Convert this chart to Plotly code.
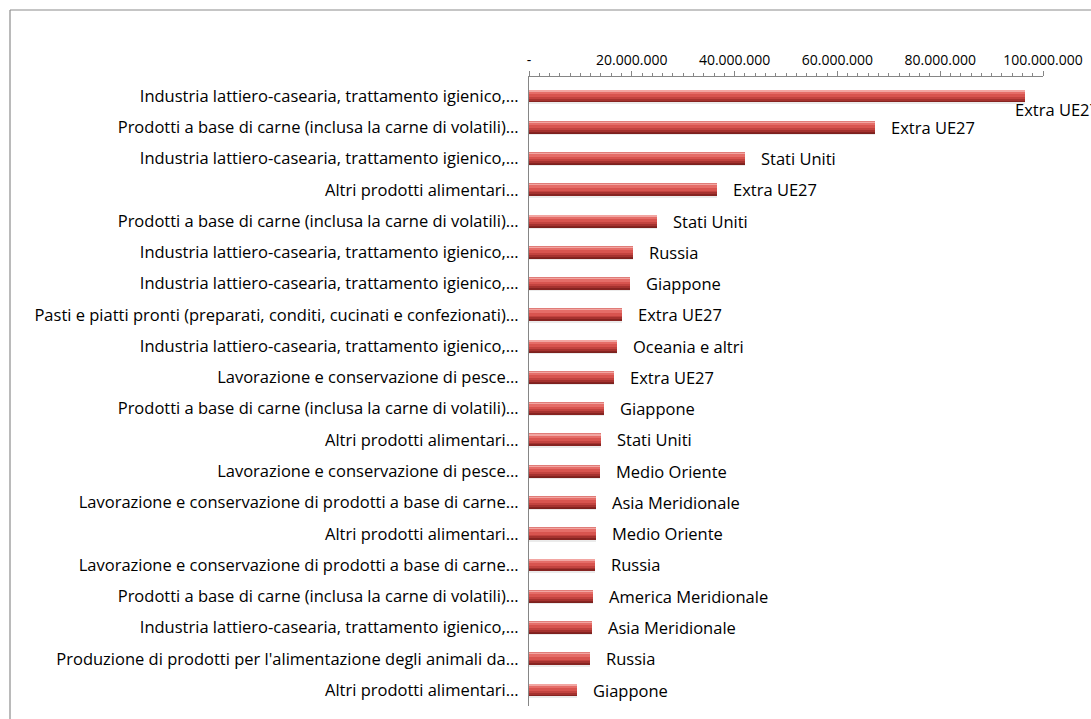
import plotly.graph_objects as go

# Categorie (settori) in ordine dall'alto verso il basso
settori = [
    "Industria lattiero-casearia, trattamento igienico,…",
    "Prodotti a base di carne (inclusa la carne di volatili)…",
    "Industria lattiero-casearia, trattamento igienico,…",
    "Altri prodotti alimentari…",
    "Prodotti a base di carne (inclusa la carne di volatili)…",
    "Industria lattiero-casearia, trattamento igienico,…",
    "Industria lattiero-casearia, trattamento igienico,…",
    "Pasti e piatti pronti (preparati, conditi, cucinati e confezionati)…",
    "Industria lattiero-casearia, trattamento igienico,…",
    "Lavorazione e conservazione di pesce…",
    "Prodotti a base di carne (inclusa la carne di volatili)…",
    "Altri prodotti alimentari…",
    "Lavorazione e conservazione di pesce…",
    "Lavorazione e conservazione di prodotti a base di carne…",
    "Altri prodotti alimentari…",
    "Lavorazione e conservazione di prodotti a base di carne…",
    "Prodotti a base di carne (inclusa la carne di volatili)…",
    "Industria lattiero-casearia, trattamento igienico,…",
    "Produzione di prodotti per l'alimentazione degli animali da…",
    "Altri prodotti alimentari…",
]

# Area di destinazione
aree = [
    "Extra UE27", "Extra UE27", "Stati Uniti", "Extra UE27", "Stati Uniti",
    "Russia", "Giappone", "Extra UE27", "Oceania e altri", "Extra UE27",
    "Giappone", "Stati Uniti", "Medio Oriente", "Asia Meridionale", "Medio Oriente",
    "Russia", "America Meridionale", "Asia Meridionale", "Russia", "Giappone",
]

# Valore delle esportazioni (euro)
valori = [
    96_500_000, 67_300_000, 42_000_000, 36_600_000, 24_900_000,
    20_200_000, 19_600_000, 18_100_000, 17_100_000, 16_500_000,
    14_600_000, 14_000_000, 13_800_000, 13_000_000, 12_950_000,
    12_900_000, 12_400_000, 12_200_000, 11_800_000, 9_300_000,
]

# Etichette dell'asse dei valori
tick_valori = [0, 20_000_000, 40_000_000, 60_000_000, 80_000_000, 100_000_000]
tick_testi = ["-", "20.000.000", "40.000.000", "60.000.000", "80.000.000", "100.000.000"]

W, H = 1091, 719
ML, MR, MT, MB = 529, 48, 77, 13
FONT = "Open Sans"
TXT = 16.5

pos = list(range(len(valori)))

fig = go.Figure()

# Fasce orizzontali (dall'alto al basso) che simulano il cilindro in rilievo
fasce = [
    (-0.190, -0.165, "#E07C78"),
    (-0.165, -0.125, "#F2A6A2"),
    (-0.125, -0.065, "#E56D68"),
    (-0.065, 0.025, "#D8544F"),
    (0.025, 0.100, "#C2433F"),
    (0.100, 0.160, "#A5322F"),
    (0.160, 0.190, "#862421"),
    (0.190, 0.250, "rgba(0,0,0,0.08)"),
]
for y0, y1, col in fasce:
    fig.add_trace(go.Bar(
        x=valori, y=pos, orientation="h",
        width=y1 - y0, offset=y0,
        marker=dict(color=col, line=dict(width=0)),
        hoverinfo="skip", showlegend=False,
    ))

# Etichette delle aree accanto alla fine di ogni barra
for i, (v, a) in enumerate(zip(valori, aree)):
    spinta = v > 0.9 * tick_valori[-1]
    fig.add_annotation(
        x=v, y=i, text=a, showarrow=False,
        xanchor="left", yanchor="middle",
        xshift=-12 if spinta else 14,
        yshift=-13 if spinta else 0,
        font=dict(family=FONT, size=TXT, color="#000000"),
    )

# Cornice del grafico (bordi sinistro e superiore)
pw, ph = W - ML - MR, H - MT - MB
def px_x(p):
    return (p - ML) / pw
def px_y(p):
    return (H - MB - p) / ph

fig.add_shape(type="line", xref="paper", yref="paper",
              x0=px_x(10), x1=px_x(W + 20), y0=px_y(10), y1=px_y(10),
              line=dict(color="#8C8C8C", width=1.2))
fig.add_shape(type="line", xref="paper", yref="paper",
              x0=px_x(10), x1=px_x(10), y0=px_y(10), y1=px_y(H + 20),
              line=dict(color="#8C8C8C", width=1.2))

fig.update_layout(
    width=W, height=H,
    margin=dict(l=ML, r=MR, t=MT, b=MB),
    paper_bgcolor="white", plot_bgcolor="white",
    barmode="overlay", bargap=0,
    font=dict(family=FONT, size=TXT, color="#000000"),
)

fig.update_xaxes(
    side="top", range=[0, tick_valori[-1]], automargin=False,
    tickvals=tick_valori, ticktext=tick_testi,
    showline=True, linecolor="#868686", linewidth=1,
    ticks="outside", ticklen=5, tickcolor="#868686",
    minor=dict(dtick=2_000_000, ticks="outside", ticklen=3, tickcolor="#868686"),
    showgrid=False, zeroline=False,
    tickfont=dict(family=FONT, size=14, color="#000000"),
    ticklabelstandoff=0,
)

fig.update_yaxes(
    tickmode="array", tickvals=pos, ticktext=settori,
    range=[19.51, -0.608], automargin=False,
    showline=True, linecolor="#868686", linewidth=1.2,
    ticks="", showgrid=False, zeroline=False,
    tickfont=dict(family=FONT, size=TXT, color="#000000"),
    ticklabelstandoff=6,
)

fig.write_html("out.html")
